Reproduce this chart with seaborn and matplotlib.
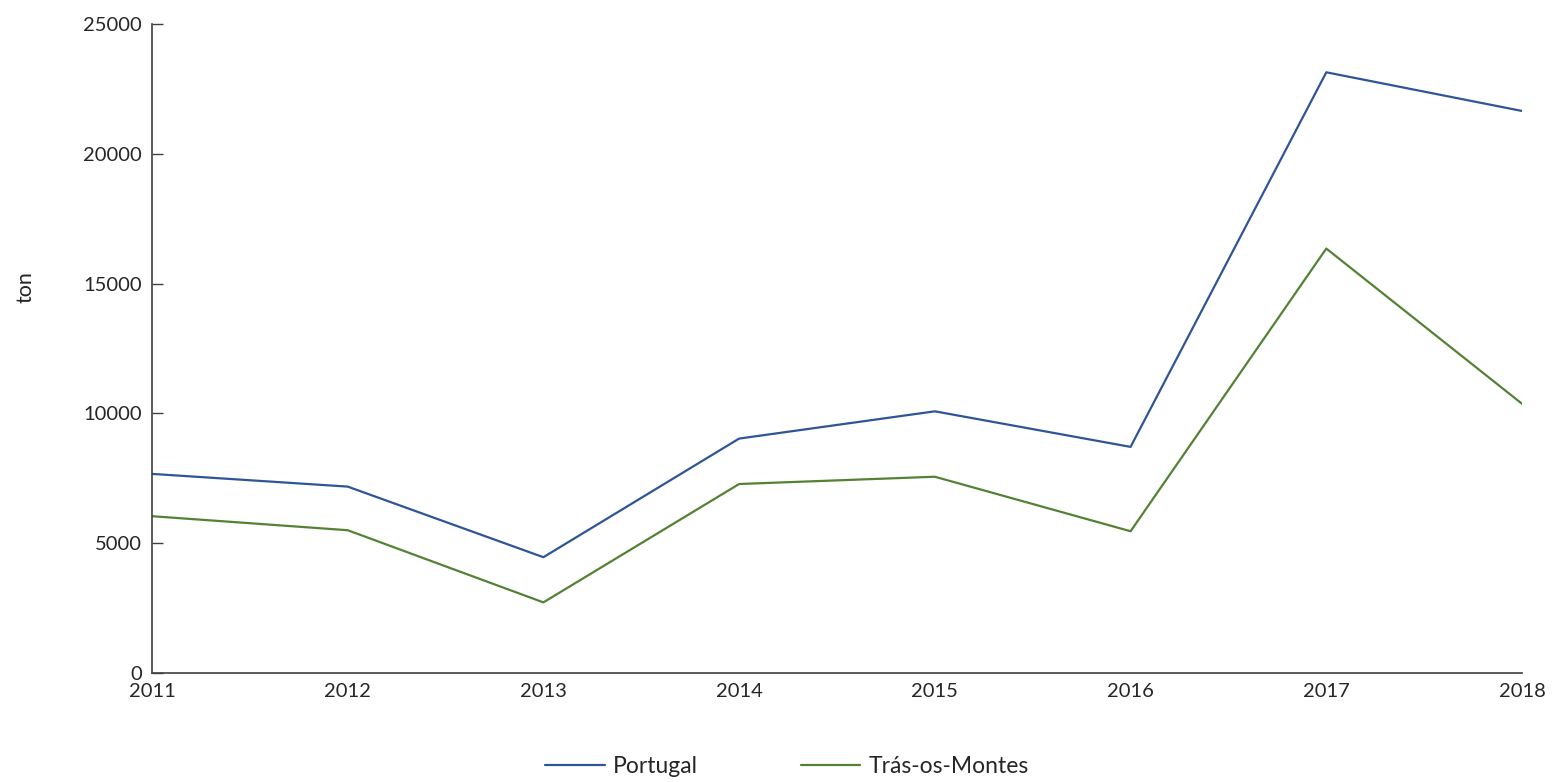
import pandas as pd
import matplotlib
matplotlib.use("Agg")
import matplotlib.pyplot as plt
import seaborn as sns

# values (ton)
years = [2011, 2012, 2013, 2014, 2015, 2016, 2017, 2018]
portugal = [7670, 7180, 4460, 9030, 10080, 8710, 23140, 21650]
tras_os_montes = [6040, 5500, 2720, 7280, 7560, 5460, 16350, 10370]
series_names = ["Portugal", "Trás-os-Montes"]
palette = {"Portugal": "#2F5597", "Trás-os-Montes": "#548235"}

df = pd.DataFrame({
    "year": years * 2,
    "value": portugal + tras_os_montes,
    "series": [series_names[0]] * len(years) + [series_names[1]] * len(years),
})

sns.set_style("white")
plt.rcParams["font.family"] = ["Lato", "DejaVu Sans"]

fig, ax = plt.subplots(figsize=(15.55, 7.82), dpi=100)
fig.subplots_adjust(left=0.0977, right=0.9788, top=0.9693, bottom=0.1394)

sns.lineplot(data=df, x="year", y="value", hue="series", palette=palette,
             linewidth=1.6, ax=ax)

ax.set_xlim(2011, 2018)
ax.set_ylim(0, 25000)
ax.set_xticks(years)
ax.set_yticks(range(0, 25001, 5000))
ax.set_xlabel("")
ax.set_ylabel("ton", fontsize=15.5)
ax.yaxis.set_label_coords(-0.085, 0.595)

for s in ["top", "right"]:
    ax.spines[s].set_visible(False)
for s in ["left", "bottom"]:
    ax.spines[s].set_color("#404040")
    ax.spines[s].set_linewidth(1.2)

ax.tick_params(axis="y", direction="in", length=8, width=1, color="#404040",
               pad=7, labelsize=14.5, left=True)
ax.tick_params(axis="x", length=0, pad=7, labelsize=14.5, bottom=True)

handles, labels = ax.get_legend_handles_labels()
ax.get_legend().remove()
fig.legend(handles, labels, loc="center", bbox_to_anchor=(0.506, 0.02),
           ncol=2, frameon=False, fontsize=16.5, handlelength=2.6,
           columnspacing=4.5, handletextpad=0.35)

fig.savefig("out.png", dpi=100)
